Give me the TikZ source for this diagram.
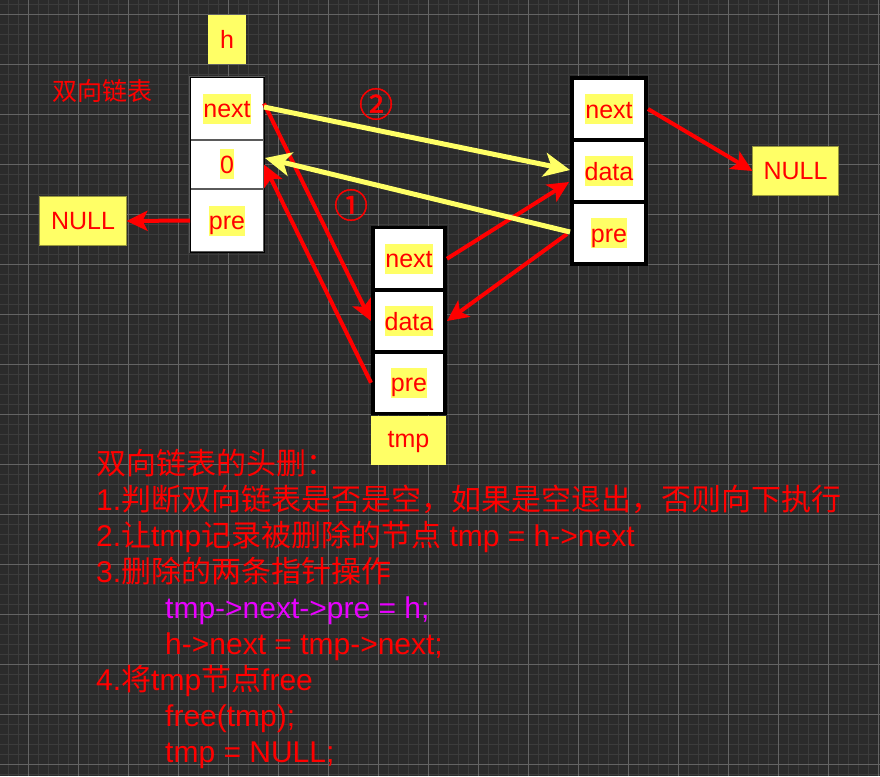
\documentclass[tikz,border=0pt]{standalone}
\usepackage{fontspec}
\setmainfont{Liberation Sans}
\newfontfamily\cjk{Noto Sans CJK SC}
\newfontfamily\cjkbold[FakeBold=1.2]{Noto Sans CJK SC}
\usetikzlibrary{arrows.meta}
\definecolor{bg}{RGB}{43,43,43}
\definecolor{gminor}{RGB}{60,60,60}
\definecolor{gmajor}{RGB}{100,100,100}
\definecolor{hly}{RGB}{255,255,102}
\definecolor{nullborder}{RGB}{150,150,60}
\definecolor{divgray}{RGB}{90,90,90}
\definecolor{mag}{RGB}{232,0,255}
\newcommand{\hltxt}[1]{{\setlength{\fboxsep}{0pt}\colorbox{hly}{\rule[-0.24em]{0pt}{1.2em}#1}}}
\begin{document}
\begin{tikzpicture}[x=1pt,y=-1pt,
  lbl/.style={text=red,font=\fontsize{25}{30}\selectfont,inner sep=0pt,outer sep=0pt},
  acell/.style={lbl,fill=white,draw=divgray,line width=2pt,minimum width=74pt},
  bcell/.style={lbl,fill=white,draw=black,line width=3.5pt},
  ybox/.style={lbl,fill=hly},
  nullbox/.style={lbl,fill=hly,draw=nullborder,line width=1pt},
  redarr/.style={draw=red,line width=4pt,-{Stealth[length=21pt,width=20pt,inset=5pt]}},
  yelarr/.style={draw=hly,line width=5pt,-{Stealth[length=26pt,width=24pt,inset=7pt]}},
  codeline/.style={text=red,font=\fontsize{30}{36}\selectfont,anchor=base west,inner sep=0pt},
  circnum/.style={text=red,font=\cjkbold\fontsize{34}{36}\selectfont,inner sep=0pt}
]
\useasboundingbox (0,0) rectangle (880,776);
\fill[bg] (0,0) rectangle (880,776);
% grid
\foreach \gx in {8.5,18.5,...,878.5} \draw[gminor,line width=1pt] (\gx,0) -- (\gx,776);
\foreach \gy in {4.5,14.5,...,774.5} \draw[gminor,line width=1pt] (0,\gy) -- (880,\gy);
\foreach \gx in {28.5,78.5,...,878.5} \draw[gmajor,line width=1pt] (\gx,0) -- (\gx,776);
\foreach \gy in {14.5,64.5,...,764.5} \draw[gmajor,line width=1pt] (0,\gy) -- (880,\gy);

% title
\node[lbl,font=\cjk\fontsize{25}{30}\selectfont] (title) at (102.5,91) {双向链表};

% head node h
\node[ybox,minimum width=38pt,minimum height=49pt] (hlab) at (227,39.5) {h};
\node[acell,minimum height=63pt] (Anext) at (227,108.5) {\hltxt{next}};
\node[acell,minimum height=49pt] (A0) at (227,164.5) {\raisebox{6.5pt}{\hltxt{0}}};
\node[acell,minimum height=63pt] (Apre) at (227,220.5) {\hltxt{pre}};
\draw[black,line width=1pt] (Anext.north west) rectangle (Apre.south east);

% NULL boxes
\node[nullbox,minimum width=87pt,minimum height=49pt] (NL) at (83,221) {NULL};
\node[nullbox,minimum width=86pt,minimum height=49pt] (NR) at (795.5,171) {NULL};

% tmp node
\node[ybox,minimum width=75pt,minimum height=49pt,text height=19pt,text depth=5pt] (tmplab) at (408.5,440) {tmp};
\node[bcell,minimum width=72pt,minimum height=62.5pt] (Tnext) at (409,258.75) {\hltxt{next}};
\node[bcell,minimum width=72pt,minimum height=62pt] (Tdata) at (409,321) {\hltxt{data}};
\node[bcell,minimum width=72pt,minimum height=61.5pt] (Tpre) at (409,382.75) {\hltxt{pre}};

% second node
\node[bcell,minimum width=74pt,minimum height=62pt] (Bnext) at (609,109) {\hltxt{next}};
\node[bcell,minimum width=74pt,minimum height=62pt] (Bdata) at (609,171) {\hltxt{data}};
\node[bcell,minimum width=74pt,minimum height=62pt] (Bpre) at (609,233) {\hltxt{pre}};

% red arrows
\draw[redarr] (Apre.west) -- (NL.east);
\draw[redarr] ([yshift=5pt]Anext.east) -- ([xshift=-2pt]Tdata.west);
\draw[redarr] ([xshift=-2pt]Tpre.west) -- (A0.east);
\draw[redarr] ([xshift=2pt]Tnext.east) -- ([xshift=-3pt,yshift=-11pt]Bdata.west);
\draw[redarr] ([xshift=-5pt,yshift=-1pt]Bpre.west) -- ([xshift=2pt]Tdata.east);
\draw[redarr] ([xshift=2pt]Bnext.east) -- (NR.west);

% yellow arrows
\draw[yelarr] ([yshift=1.5pt]Anext.east) -- ([xshift=-2pt,yshift=1pt]Bdata.west);
\draw[yelarr] ([xshift=-2pt,yshift=1pt]Bpre.west) -- ([xshift=1pt,yshift=6.5pt]A0.east);

% circled numbers
\node[circnum] (c2) at (376,104) {②};
\node[circnum] (c1) at (351,205) {①};

% description
\node[codeline] (l1) at (96,474) {{\cjk 双向链表的头删：}};
\node[codeline] (l2) at (96,510) {1.{\cjk 判断双向链表是否是空，如果是空退出，否则向下执行}};
\node[codeline] (l3) at (96,546) {2.{\cjk 让}tmp{\cjk 记录被删除的节点} tmp = h->next};
\node[codeline] (l4) at (96,582) {3.{\cjk 删除的两条指针操作}};
\node[codeline,text=mag] (l5) at (165,618) {tmp->next->pre = h;};
\node[codeline] (l6) at (165,654) {h->next = tmp->next;};
\node[codeline] (l7) at (96,690) {4.{\cjk 将}tmp{\cjk 节点}free};
\node[codeline] (l8) at (165,726) {free(tmp);};
\node[codeline] (l9) at (165,762) {tmp = NULL;};
\end{tikzpicture}
\end{document}
